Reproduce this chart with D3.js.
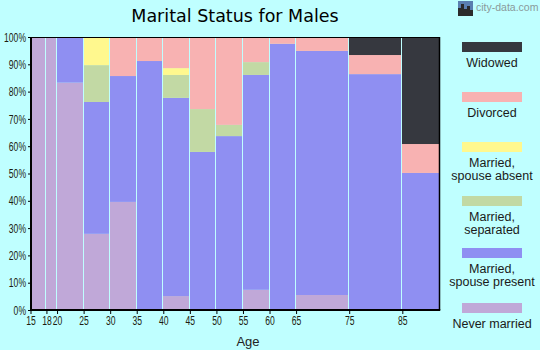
<!DOCTYPE html>
<html>
<head>
<meta charset="utf-8">
<script src="https://cdn.jsdelivr.net/npm/d3@7"></script>
<style>
  html, body { margin: 0; padding: 0; background: #bfffff; }
  svg { display: block; }
</style>
</head>
<body>
<svg id="chart" width="540" height="350"></svg>
<script>
// Age groups: each bar spans [start, next start); the last one closes at ageEnd.
const ageStarts = [15, 18, 20, 25, 30, 35, 40, 45, 50, 55, 60, 65, 75, 85];
const ageEnd = 92;
const ageTickLabels = ["15", "18", "20", "25", "30", "35", "40", "45", "50", "55", "60", "65", "75", "85"];
const pctTickLabels = ["0%", "10%", "20%", "30%", "40%", "50%", "60%", "70%", "80%", "90%", "100%"];

// Share of males (%) in each marital status, per age group.
const neverMarried  = [100, 100, 83.3, 27.9, 39.6, 0,    5.1,  0,    0,    7.4,  0,    5.5,  0,    0];
const spousePresent = [0,   0,   16.7, 48.3, 46.1, 91.2, 72.6, 57.9, 63.7, 78.7, 97.5, 89.4, 86.4, 50.2];
const separated     = [0,   0,   0,    13.5, 0,    0,    8.4,  15.7, 4.1,  4.7,  0,    0,    0,    0];
const spouseAbsent  = [0,   0,   0,    10.3, 0,    0,    2.5,  0,    0,    0,    0,    0,    0,    0];
const divorced      = [0,   0,   0,    0,    14.3, 8.8,  11.4, 26.4, 32.2, 9.2,  2.5,  5.1,  7.0,  10.6];
const widowed       = [0,   0,   0,    0,    0,    0,    0,    0,    0,    0,    0,    0,    6.6,  39.2];

const seriesNames = ["Never married", "Married, spouse present", "Married, separated",
                     "Married, spouse absent", "Divorced", "Widowed"];
const seriesColors = ["#c0a8d8", "#8f8ff2", "#c2d9a4", "#fff88e", "#f8b2b2", "#36383f"];
const seriesValues = [neverMarried, spousePresent, separated, spouseAbsent, divorced, widowed];

const rows = ageStarts.map((a, i) => {
  const r = { start: a, end: i + 1 < ageStarts.length ? ageStarts[i + 1] : ageEnd };
  seriesNames.forEach((n, k) => { r[n] = seriesValues[k][i]; });
  return r;
});

const svg = d3.select("#chart");
const plotLeft = 31, plotRight = 439.5, plotTop = 37, plotBottom = 310;

const x = d3.scaleLinear().domain([15, ageEnd]).range([30.5, plotRight]);
const y = d3.scaleLinear().domain([0, 100]).range([plotBottom, plotTop]);

const stacked = d3.stack().keys(seriesNames)(rows);

// Stacked bars, width proportional to the age span
const g = svg.append("g");
stacked.forEach((layer, k) => {
  g.selectAll(null)
    .data(layer.filter(d => d[1] - d[0] > 0))
    .join("rect")
    .attr("x", d => Math.max(plotLeft, Math.round(x(d.data.start))))
    .attr("width", d => {
      const x0 = Math.max(plotLeft, Math.round(x(d.data.start)));
      const x1 = d.data.end === ageEnd ? plotRight : Math.round(x(d.data.end)) - 1;
      return x1 - x0;
    })
    .attr("y", d => y(d[1]))
    .attr("height", d => y(d[0]) - y(d[1]))
    .attr("fill", seriesColors[k]);
});

// Frame
svg.append("line").attr("x1", plotLeft).attr("x2", plotRight).attr("y1", plotTop + 0.5).attr("y2", plotTop + 0.5)
  .attr("stroke", "#000").attr("stroke-width", 1);
svg.append("line").attr("x1", plotRight).attr("x2", plotRight).attr("y1", plotTop).attr("y2", plotBottom)
  .attr("stroke", "#000").attr("stroke-width", 1.5);

// Axes
const yAxis = d3.axisLeft(y)
  .tickValues(d3.range(0, 101, 10))
  .tickFormat((d, i) => pctTickLabels[i])
  .tickSize(3).tickPadding(2);
const ya = svg.append("g").attr("transform", `translate(${plotLeft},0)`).call(yAxis);

const xAxis = d3.axisBottom(x)
  .tickValues(ageStarts)
  .tickFormat((d, i) => ageTickLabels[i])
  .tickSize(4).tickPadding(2);
const xa = svg.append("g").attr("transform", `translate(0,${plotBottom})`).call(xAxis);

[ya, xa].forEach(a => {
  a.select(".domain").attr("stroke", "#000").attr("stroke-width", 2);
  a.selectAll(".tick line").attr("stroke", "#000");
  a.selectAll(".tick text")
    .attr("fill", "#1c1c10")
    .style("font-family", "'Liberation Sans', Arial, sans-serif")
    .style("font-size", "13px");
});
// condensed tick labels
const squeeze = 0.66;
ya.selectAll(".tick text").attr("x", -5 / squeeze).attr("transform", `scale(${squeeze},1)`);
xa.selectAll(".tick text").attr("transform", `scale(${squeeze},1)`);
ya.select(".domain").attr("d", `M0,${plotTop}V${plotBottom}`);
xa.select(".domain").attr("d", `M${plotLeft - 1},0H${plotRight + 0.75}`);

// Title and axis title
svg.append("text").attr("x", 235).attr("y", 22).attr("text-anchor", "middle")
  .style("font-family", "'DejaVu Sans', Verdana, sans-serif").style("font-size", "17.5px")
  .attr("fill", "#000").text("Marital Status for Males");

svg.append("text").attr("x", 248).attr("y", 346).attr("text-anchor", "middle")
  .style("font-family", "'Liberation Sans', Arial, sans-serif").style("font-size", "13px")
  .attr("fill", "#222").text("Age");

// Legend, top entry is the top layer
const legendItems = [
  { name: "Widowed", lines: ["Widowed"], color: seriesColors[5], y: 42 },
  { name: "Divorced", lines: ["Divorced"], color: seriesColors[4], y: 92 },
  { name: "Married, spouse absent", lines: ["Married,", "spouse absent"], color: seriesColors[3], y: 142 },
  { name: "Married, separated", lines: ["Married,", "separated"], color: seriesColors[2], y: 196 },
  { name: "Married, spouse present", lines: ["Married,", "spouse present"], color: seriesColors[1], y: 248 },
  { name: "Never married", lines: ["Never married"], color: seriesColors[0], y: 303 }
];
const lg = svg.append("g");
legendItems.forEach(it => {
  lg.append("rect").attr("x", 462).attr("y", it.y).attr("width", 60).attr("height", 10).attr("fill", it.color);
  it.lines.forEach((t, j) => {
    lg.append("text").attr("x", 492).attr("y", it.y + 25 + j * 13).attr("text-anchor", "middle")
      .style("font-family", "'Liberation Sans', Arial, sans-serif").style("font-size", "12.5px")
      .attr("fill", "#1a1a1a").text(t);
  });
});

// Site mark
const logo = svg.append("g").attr("transform", "translate(458,1)");
logo.append("rect").attr("width", 15).attr("height", 15).attr("fill", "#5a7fb0");
logo.append("rect").attr("y", 9).attr("width", 15).attr("height", 6).attr("fill", "#c98a3a");
[[0, 7, 3, 8], [3, 3, 3, 12], [6, 8, 3, 7], [9, 5, 3, 10], [12, 9, 3, 6]].forEach(b => {
  logo.append("rect").attr("x", b[0]).attr("y", b[1]).attr("width", b[2]).attr("height", b[3]).attr("fill", "#2b2b2b");
});
svg.append("text").attr("x", 476).attr("y", 11)
  .style("font-family", "'Liberation Sans', Arial, sans-serif").style("font-size", "10.5px")
  .attr("fill", "#8a9a9a").text("city-data.com");
</script>
</body>
</html>
